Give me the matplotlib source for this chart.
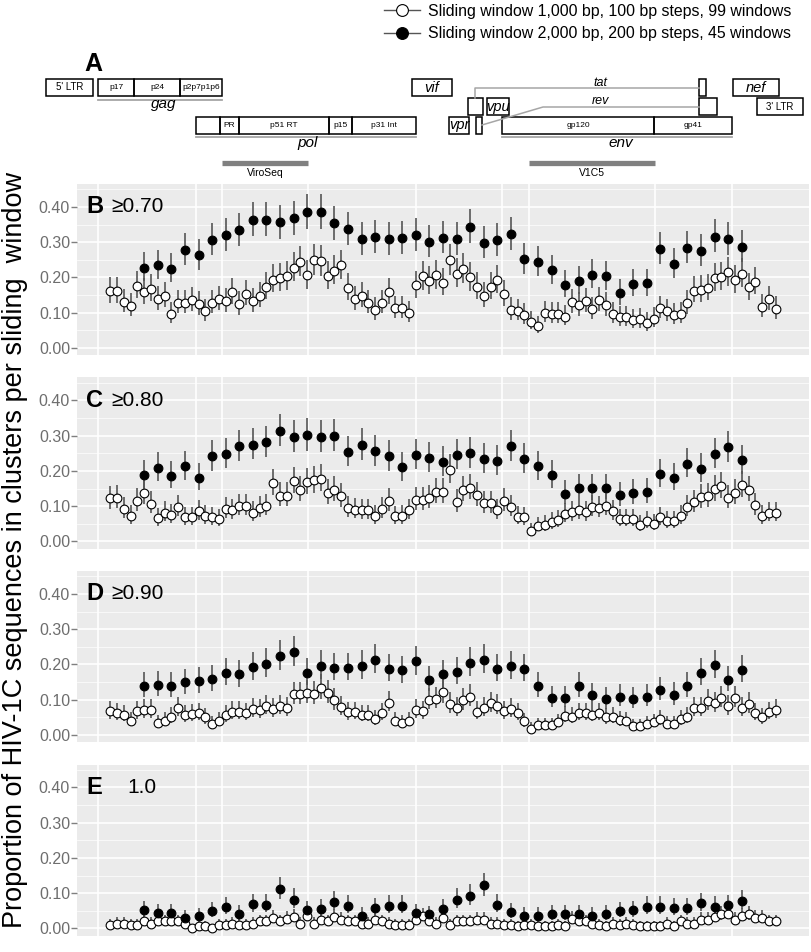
import numpy as np
import matplotlib.pyplot as plt
from matplotlib.lines import Line2D
from matplotlib.patches import Rectangle

plt.rcParams['font.family'] = ['Liberation Sans', 'DejaVu Sans']

# Sliding windows ---------------------------------------------------------
# window centres in bp (1,000 bp / 100 bp steps and 2,000 bp / 200 bp steps)
x_small = 500 + 100 * np.arange(99)
x_large = 1000 + 200 * np.arange(45)
n_sequences = 380  # used for the 95% binomial (Wilson) intervals

white_B = [0.162, 0.162, 0.131, 0.120, 0.176, 0.159, 0.168, 0.138, 0.148, 0.096,
           0.128, 0.128, 0.136, 0.124, 0.104, 0.128, 0.138, 0.132, 0.159, 0.124,
           0.154, 0.132, 0.148, 0.174, 0.194, 0.199, 0.203, 0.228, 0.244, 0.206,
           0.249, 0.246, 0.204, 0.219, 0.234, 0.171, 0.138, 0.148, 0.128, 0.108,
           0.128, 0.158, 0.112, 0.112, 0.099, 0.178, 0.203, 0.190, 0.206, 0.185,
           0.249, 0.211, 0.224, 0.200, 0.174, 0.148, 0.173, 0.192, 0.152, 0.108,
           0.105, 0.093, 0.075, 0.062, 0.099, 0.097, 0.097, 0.089, 0.130, 0.121,
           0.132, 0.110, 0.135, 0.121, 0.096, 0.087, 0.087, 0.079, 0.081, 0.071,
           0.083, 0.113, 0.104, 0.094, 0.096, 0.127, 0.163, 0.165, 0.169, 0.199,
           0.201, 0.215, 0.192, 0.210, 0.172, 0.188, 0.117, 0.138, 0.111]
black_B = [0.228, 0.234, 0.225, 0.279, 0.263, 0.307, 0.321, 0.334, 0.364, 0.364,
           0.356, 0.368, 0.386, 0.386, 0.353, 0.338, 0.309, 0.315, 0.309, 0.311,
           0.321, 0.301, 0.313, 0.308, 0.344, 0.299, 0.305, 0.323, 0.251, 0.244,
           0.220, 0.179, 0.189, 0.208, 0.203, 0.156, 0.182, 0.183, 0.281, 0.239,
           0.284, 0.276, 0.316, 0.309, 0.286]

white_C = [0.122, 0.124, 0.093, 0.073, 0.116, 0.138, 0.107, 0.066, 0.082, 0.075,
           0.097, 0.069, 0.069, 0.086, 0.073, 0.069, 0.064, 0.093, 0.088, 0.100,
           0.101, 0.082, 0.095, 0.101, 0.166, 0.130, 0.130, 0.171, 0.147, 0.168,
           0.173, 0.177, 0.138, 0.147, 0.128, 0.096, 0.090, 0.088, 0.088, 0.073,
           0.093, 0.116, 0.071, 0.073, 0.088, 0.118, 0.118, 0.124, 0.141, 0.141,
           0.204, 0.113, 0.147, 0.152, 0.131, 0.109, 0.109, 0.088, 0.116, 0.097,
           0.070, 0.069, 0.029, 0.045, 0.048, 0.055, 0.060, 0.078, 0.083, 0.088,
           0.083, 0.099, 0.095, 0.101, 0.086, 0.064, 0.064, 0.064, 0.048, 0.059,
           0.050, 0.069, 0.059, 0.059, 0.073, 0.097, 0.111, 0.126, 0.129, 0.148,
           0.156, 0.124, 0.138, 0.159, 0.147, 0.103, 0.073, 0.081, 0.081]
black_C = [0.189, 0.209, 0.187, 0.214, 0.181, 0.241, 0.249, 0.270, 0.275, 0.281,
           0.314, 0.296, 0.301, 0.296, 0.299, 0.254, 0.274, 0.256, 0.241, 0.210,
           0.245, 0.236, 0.226, 0.246, 0.250, 0.233, 0.229, 0.270, 0.233, 0.214,
           0.189, 0.136, 0.153, 0.151, 0.153, 0.131, 0.138, 0.141, 0.191, 0.181,
           0.221, 0.206, 0.249, 0.267, 0.230]

white_D = [0.067, 0.062, 0.058, 0.041, 0.067, 0.071, 0.071, 0.033, 0.041, 0.052,
           0.076, 0.056, 0.060, 0.062, 0.050, 0.031, 0.041, 0.056, 0.066, 0.066,
           0.062, 0.073, 0.071, 0.082, 0.073, 0.082, 0.077, 0.115, 0.115, 0.119,
           0.117, 0.134, 0.119, 0.098, 0.079, 0.064, 0.065, 0.058, 0.058, 0.045,
           0.062, 0.092, 0.041, 0.033, 0.041, 0.071, 0.067, 0.100, 0.102, 0.121,
           0.088, 0.077, 0.098, 0.109, 0.066, 0.077, 0.090, 0.083, 0.067, 0.073,
           0.063, 0.039, 0.017, 0.027, 0.027, 0.027, 0.036, 0.055, 0.052, 0.062,
           0.062, 0.058, 0.062, 0.050, 0.052, 0.043, 0.041, 0.025, 0.025, 0.031,
           0.036, 0.046, 0.031, 0.031, 0.046, 0.052, 0.076, 0.077, 0.096, 0.090,
           0.105, 0.081, 0.105, 0.077, 0.088, 0.062, 0.050, 0.065, 0.071]
black_D = [0.139, 0.143, 0.139, 0.149, 0.152, 0.158, 0.176, 0.172, 0.193, 0.202,
           0.224, 0.235, 0.176, 0.197, 0.191, 0.191, 0.197, 0.214, 0.188, 0.183,
           0.209, 0.157, 0.172, 0.179, 0.205, 0.213, 0.188, 0.195, 0.188, 0.139,
           0.105, 0.105, 0.139, 0.112, 0.101, 0.109, 0.102, 0.109, 0.128, 0.114,
           0.139, 0.177, 0.198, 0.157, 0.185]

white_E = [0.010, 0.014, 0.014, 0.010, 0.010, 0.020, 0.014, 0.020, 0.020, 0.022,
           0.020, 0.014, 0.000, 0.006, 0.006, 0.000, 0.010, 0.010, 0.014, 0.010,
           0.010, 0.014, 0.020, 0.020, 0.030, 0.020, 0.028, 0.033, 0.014, 0.034,
           0.014, 0.025, 0.020, 0.032, 0.025, 0.020, 0.020, 0.014, 0.014, 0.025,
           0.020, 0.014, 0.010, 0.010, 0.010, 0.025, 0.034, 0.020, 0.014, 0.030,
           0.010, 0.020, 0.020, 0.020, 0.025, 0.025, 0.014, 0.014, 0.010, 0.010,
           0.006, 0.010, 0.010, 0.006, 0.006, 0.006, 0.010, 0.006, 0.028, 0.022,
           0.020, 0.014, 0.010, 0.006, 0.014, 0.010, 0.014, 0.010, 0.006, 0.006,
           0.006, 0.006, 0.014, 0.006, 0.020, 0.014, 0.014, 0.025, 0.025, 0.032,
           0.040, 0.042, 0.025, 0.034, 0.040, 0.030, 0.030, 0.020, 0.020]
black_E = [0.051, 0.045, 0.045, 0.030, 0.034, 0.049, 0.060, 0.041, 0.069, 0.067,
           0.111, 0.082, 0.051, 0.055, 0.075, 0.065, 0.036, 0.057, 0.065, 0.065,
           0.045, 0.040, 0.055, 0.082, 0.092, 0.122, 0.067, 0.047, 0.036, 0.036,
           0.041, 0.041, 0.041, 0.036, 0.041, 0.049, 0.051, 0.062, 0.062, 0.057,
           0.057, 0.071, 0.062, 0.066, 0.077]

panel_letters = ['B', 'C', 'D', 'E']
panel_thresholds = ['\u22650.70', '\u22650.80', '\u22650.90', '1.0']
white_series = [white_B, white_C, white_D, white_E]
black_series = [black_B, black_C, black_D, black_E]

# Genome map (bp, same scale as the panels) --------------------------------
ltr5 = (-447, 246)
ltr3 = (10024, 10702)
gag = (319, 2145)
gag_parts = [('p17', 319, 849), ('p24', 849, 1527), ('p2p7p1p6', 1527, 2145)]
pol = (1763, 5002)
pol_parts = [('', 1763, 2116), ('PR', 2116, 2396), ('p51 RT', 2396, 3721),
             ('p15', 3721, 4060), ('p31 Int', 4060, 5002)]
env = (6269, 9656)
env_parts = [('gp120', 6269, 8508), ('gp41', 8508, 9656)]
vif = (4943, 5532)
vpr = (5488, 5783)
vpu = (6048, 6372)
nef = (9671, 10348)
tat_exons = [(5768, 5989), (9170, 9273)]
rev_exons = [(5886, 5974), (9170, 9435)]
viroseq = (2145, 3412)
v1c5 = (6667, 8522)

grid_breaks = [gag[0], pol[0], viroseq[0], viroseq[1], pol[1],
               env[0], v1c5[0], v1c5[1], env[1]]

legend_labels = ['Sliding window 1,000 bp, 100 bp steps, 99 windows',
                 'Sliding window 2,000 bp, 200 bp steps, 45 windows']
ylabel = 'Proportion of HIV-1C sequences in clusters per sliding  window'


def wilson(p, n, z=1.96):
    p = np.asarray(p)
    denom = 1 + z ** 2 / n
    centre = (p + z ** 2 / (2 * n)) / denom
    half = z * np.sqrt(p * (1 - p) / n + z ** 2 / (4 * n ** 2)) / denom
    return centre - half, centre + half


W, H = 812, 952
fig = plt.figure(figsize=(W / 100, H / 100), dpi=100)


def px_axes(left, top, width, height):
    return fig.add_axes([left / W, 1 - (top + height) / H, width / W, height / H])


xlim = (10, 10790)
bp_per_px = (xlim[1] - xlim[0]) / 732

# Genome map ----------------------------------------------------------------
ax_map = px_axes(0, 0, W, 190)
ax_map.set_xlim(xlim[0] - 77 * bp_per_px, xlim[1] + 3 * bp_per_px)
ax_map.set_ylim(190, 0)
ax_map.axis('off')

row_top = [79, 98, 117]
row_h = 17


def box(x0, x1, row, text='', size=6.5, italic=False):
    ax_map.add_patch(Rectangle((x0, row_top[row]), x1 - x0, row_h, fill=False,
                               edgecolor='black', lw=1.1))
    if text:
        ax_map.text((x0 + x1) / 2, row_top[row] + row_h / 2, text, ha='center',
                    va='center', fontsize=size,
                    style='italic' if italic else 'normal')


box(*ltr5, 0, "5' LTR", 7)
for name, a, b in gag_parts:
    box(a, b, 0, name, 6)
for name, a, b in pol_parts:
    box(a, b, 2, name, 6)
for name, a, b in env_parts:
    box(a, b, 2, name, 6)
box(*vif, 0, 'vif', 10.5, True)
box(*nef, 0, 'nef', 10.5, True)
box(*vpu, 1, 'vpu', 10.5, True)
box(*vpr, 2, 'vpr', 10.5, True)
box(*ltr3, 1, "3' LTR", 7)
box(*tat_exons[0], 1)
box(*tat_exons[1], 0)
box(*rev_exons[0], 2)
box(*rev_exons[1], 1)

grey_line = '#a6a6a6'
ax_map.plot(gag, [99.5, 99.5], color=grey_line, lw=1.3)
ax_map.plot(pol, [136.5, 136.5], color=grey_line, lw=1.3)
ax_map.plot(env, [136.5, 136.5], color=grey_line, lw=1.3)
ax_map.text(np.mean(gag) + 50, 104, 'gag', style='italic', fontsize=11, ha='center', va='center')
ax_map.text(3412, 143, 'pol', style='italic', fontsize=11, ha='center', va='center')
ax_map.text(8020, 143, 'env', style='italic', fontsize=11, ha='center', va='center')

# spliced tat / rev connectors
tat_mid = np.mean(tat_exons[0])
ax_map.plot([tat_mid, tat_mid, tat_exons[1][0]], [row_top[1], 88, 88], color=grey_line, lw=1.1)
ax_map.plot([rev_exons[0][1], 6873, rev_exons[1][0]], [125, 107, 107], color=grey_line, lw=1.1)
ax_map.text(7720, 83, 'tat', style='italic', fontsize=9, ha='center', va='center')
ax_map.text(7720, 101, 'rev', style='italic', fontsize=9, ha='center', va='center')

ax_map.plot(viroseq, [163, 163], color='#808080', lw=3.8, solid_capstyle='butt')
ax_map.plot(v1c5, [163, 163], color='#808080', lw=3.8, solid_capstyle='butt')
ax_map.text(np.mean(viroseq), 173, 'ViroSeq', fontsize=7.5, ha='center', va='center')
ax_map.text(np.mean(v1c5), 173, 'V1C5', fontsize=7.5, ha='center', va='center')
ax_map.text(xlim[0] + 16 * bp_per_px, 64, 'A', fontsize=18, fontweight='bold',
            ha='center', va='center')

# Panels --------------------------------------------------------------------
tops = [184, 377.5, 571, 764.5]
for top, letter, thr, wv, bv in zip(tops, panel_letters, panel_thresholds,
                                     white_series, black_series):
    ax = px_axes(77, top, 732, 171)
    ax.set_facecolor('#EBEBEB')
    for s in ax.spines.values():
        s.set_visible(False)
    ax.set_xlim(*xlim)
    ax.set_ylim(-0.0199, 0.465)
    ax.set_xticks(grid_breaks)
    ax.set_yticks([0, 0.1, 0.2, 0.3, 0.4])
    ax.set_yticks([0.05, 0.15, 0.25, 0.35, 0.45], minor=True)
    ax.set_yticklabels(['0.00', '0.10', '0.20', '0.30', '0.40'])
    ax.grid(True, which='major', color='white', lw=1.2)
    ax.grid(True, which='minor', axis='y', color='white', lw=0.5)
    ax.set_axisbelow(True)
    ax.tick_params(axis='x', length=0, labelbottom=False)
    ax.tick_params(axis='y', which='major', length=4, width=1, color='#7f7f7f',
                   labelcolor='#6e6e6e', labelsize=11.5, pad=1)
    ax.tick_params(axis='y', which='minor', length=0)

    for xs, vals, face in [(x_small, wv, 'white'), (x_large, bv, 'black')]:
        lo, hi = wilson(vals, n_sequences)
        ax.vlines(xs, lo, hi, color='#555555', lw=1.2, zorder=2)
        ax.plot(xs, vals, 'o', ms=6.3, mfc=face, mec='black', mew=0.8, zorder=3)

    ax.text(0.0125, 0.4, letter, transform=ax.get_yaxis_transform(), fontsize=17,
            fontweight='bold', ha='left', va='center')
    thr_x = 0.0695 if letter == 'E' else 0.0465
    ax.text(thr_x, 0.4, thr, transform=ax.get_yaxis_transform(), fontsize=15,
            ha='left', va='center')

fig.text(15 / W, 1 - 550 / H, ylabel, rotation=90, ha='center', va='center', fontsize=19.5)

# Legend --------------------------------------------------------------------
handles = [Line2D([], [], color='#555555', lw=1, marker='o', ms=8.5, mfc=f, mec='black', mew=0.8)
           for f in ['white', 'black']]
fig.legend(handles, legend_labels, loc='upper left', bbox_to_anchor=(384 / W, 1 - 4 / H),
           frameon=False, fontsize=11.4, handlelength=2.3, handletextpad=0.5,
           labelspacing=0.45, borderpad=0, borderaxespad=0)

fig.savefig('out.png', dpi=100)
